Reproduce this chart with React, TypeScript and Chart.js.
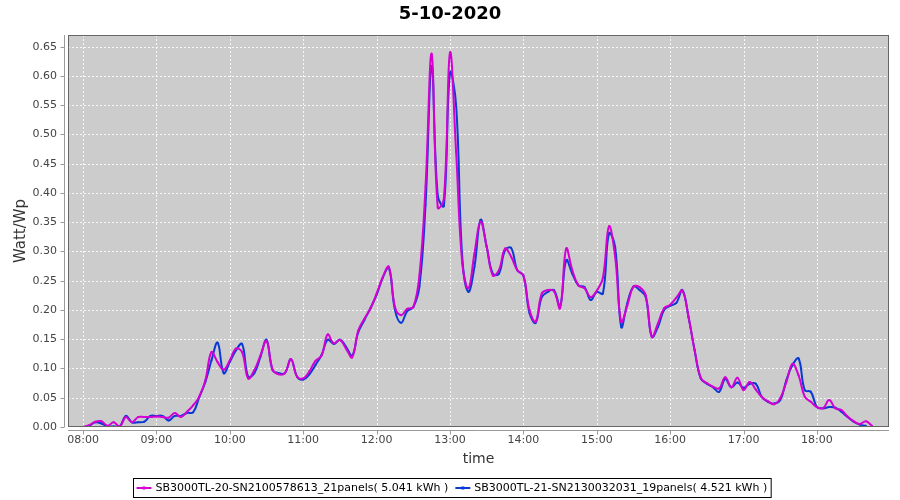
import React, { useEffect, useRef } from "react";
import { Chart, registerables } from "chart.js";

Chart.register(...registerables);

const chartTitle = "5-10-2020";
const xAxisTitle = "time";
const yAxisTitle = "Watt/Wp";
const firstSampleTime = "08:00";
const sampleStepMinutes = 5;
const hourTickLabels = ["08:00", "09:00", "10:00", "11:00", "12:00", "13:00", "14:00", "15:00", "16:00", "17:00", "18:00"];
const yTickValues = [0, 0.05, 0.1, 0.15, 0.2, 0.25, 0.3, 0.35, 0.4, 0.45, 0.5, 0.55, 0.6, 0.65];

const series1Label = "SB3000TL-20-SN2100578613_21panels( 5.041 kWh )";
const series2Label = "SB3000TL-21-SN2130032031_19panels( 4.521 kWh )";

// one row per hour, 5-minute samples starting 08:00
const series1Values: (number | null)[] = [
  0.000, 0.003, 0.009, 0.010, 0.002, 0.008, 0.001, 0.017, 0.008, 0.017, 0.017, 0.017,
  0.018, 0.017, 0.016, 0.024, 0.017, 0.026, 0.037, 0.052, 0.080, 0.128, 0.111, 0.098,
  0.114, 0.134, 0.128, 0.083, 0.097, 0.122, 0.147, 0.098, 0.090, 0.092, 0.116, 0.086,
  0.083, 0.095, 0.113, 0.122, 0.158, 0.143, 0.149, 0.134, 0.119, 0.165, 0.185, 0.203,
  0.228, 0.256, 0.274, 0.205, 0.191, 0.202, 0.205, 0.259, 0.411, 0.638, 0.375, 0.390,
  0.640, 0.470, 0.280, 0.237, 0.297, 0.351, 0.308, 0.259, 0.268, 0.305, 0.291, 0.268,
  0.259, 0.200, 0.180, 0.228, 0.234, 0.232, 0.203, 0.305, 0.268, 0.242, 0.237, 0.222,
  0.233, 0.255, 0.343, 0.291, 0.180, 0.208, 0.240, 0.239, 0.225, 0.154, 0.177, 0.203,
  0.209, 0.221, 0.233, 0.188, 0.131, 0.084, 0.075, 0.069, 0.066, 0.085, 0.068, 0.084,
  0.063, 0.077, 0.064, 0.051, 0.044, 0.039, 0.049, 0.077, 0.108, 0.088, 0.052, 0.043,
  0.034, 0.032, 0.046, 0.032, 0.029, 0.018, 0.010, 0.005, 0.010, 0.002,
];

const series2Values: (number | null)[] = [
  0.000, 0.002, 0.008, 0.006, 0.001, 0.001, 0.001, 0.019, 0.008, 0.008, 0.009, 0.019,
  0.019, 0.019, 0.011, 0.019, 0.019, 0.024, 0.025, 0.051, 0.077, 0.114, 0.144, 0.092,
  0.111, 0.131, 0.142, 0.086, 0.092, 0.120, 0.149, 0.097, 0.092, 0.092, 0.116, 0.086,
  0.081, 0.090, 0.106, 0.123, 0.149, 0.142, 0.149, 0.137, 0.122, 0.162, 0.183, 0.203,
  0.226, 0.255, 0.272, 0.200, 0.178, 0.198, 0.205, 0.240, 0.380, 0.617, 0.395, 0.378,
  0.605, 0.550, 0.290, 0.231, 0.274, 0.354, 0.308, 0.262, 0.262, 0.302, 0.306, 0.268,
  0.259, 0.195, 0.178, 0.222, 0.231, 0.234, 0.206, 0.285, 0.262, 0.242, 0.239, 0.217,
  0.231, 0.228, 0.331, 0.308, 0.171, 0.212, 0.240, 0.234, 0.222, 0.154, 0.171, 0.200,
  0.207, 0.212, 0.234, 0.188, 0.131, 0.083, 0.074, 0.068, 0.060, 0.082, 0.068, 0.076,
  0.067, 0.074, 0.074, 0.051, 0.043, 0.040, 0.046, 0.080, 0.106, 0.117, 0.063, 0.060,
  0.034, 0.032, 0.034, 0.033, 0.026, 0.017, 0.009, 0.004, 0.002, null,
];

const series1Color = "#d400d4";
const series2Color = "#0a3ad4";

const toMinutes = (t: string) => {
  const [h, m] = t.split(":").map(Number);
  return h * 60 + m;
};
const fmtTime = (v: number) => {
  const h = Math.floor(v / 60);
  const m = Math.round(v - h * 60);
  return `${String(h).padStart(2, "0")}:${String(m).padStart(2, "0")}`;
};

const FONT = "'DejaVu Sans', sans-serif";

const decorPlugin = {
  id: "decor",
  beforeDraw(chart: any) {
    const { ctx, chartArea: a, scales } = chart;
    ctx.save();
    ctx.fillStyle = "#ffffff";
    ctx.fillRect(0, 0, chart.width, chart.height);
    ctx.fillStyle = "#cccccc";
    ctx.fillRect(a.left, a.top, a.right - a.left, a.bottom - a.top);
    ctx.strokeStyle = "rgba(255,255,255,0.85)";
    ctx.lineWidth = 1;
    ctx.setLineDash([2, 2]);
    for (const v of yTickValues) {
      const py = Math.round(scales.y.getPixelForValue(v)) + 0.5;
      ctx.beginPath();
      ctx.moveTo(a.left, py);
      ctx.lineTo(a.right, py);
      ctx.stroke();
    }
    for (const t of hourTickLabels) {
      const px = Math.round(scales.x.getPixelForValue(toMinutes(t))) + 0.5;
      ctx.beginPath();
      ctx.moveTo(px, a.top);
      ctx.lineTo(px, a.bottom);
      ctx.stroke();
    }
    ctx.setLineDash([]);
    // axis lines and tick marks
    ctx.strokeStyle = "#9a9a9a";
    const axX = a.left - 3.5;
    ctx.beginPath();
    ctx.moveTo(axX, a.top);
    ctx.lineTo(axX, a.bottom);
    ctx.stroke();
    for (const v of yTickValues) {
      const py = Math.round(scales.y.getPixelForValue(v)) + 0.5;
      ctx.beginPath();
      ctx.moveTo(axX - 4, py);
      ctx.lineTo(axX, py);
      ctx.stroke();
    }
    const axY = a.bottom + 3.5;
    ctx.beginPath();
    ctx.moveTo(a.left, axY);
    ctx.lineTo(a.right, axY);
    ctx.stroke();
    for (const t of hourTickLabels) {
      const px = Math.round(scales.x.getPixelForValue(toMinutes(t))) + 0.5;
      ctx.beginPath();
      ctx.moveTo(px, axY);
      ctx.lineTo(px, axY + 4);
      ctx.stroke();
    }
    ctx.restore();
  },
  afterDatasetsDraw(chart: any) {
    const { ctx, chartArea: a } = chart;
    ctx.save();
    ctx.strokeStyle = "#666666";
    ctx.lineWidth = 1;
    ctx.strokeRect(a.left + 0.5, a.top + 0.5, a.right - a.left - 1, a.bottom - a.top - 1);
    ctx.restore();
  },
  afterDraw(chart: any) {
    const { ctx } = chart;
    ctx.save();
    // title
    ctx.fillStyle = "#000000";
    ctx.font = `bold 18px ${FONT}`;
    ctx.textAlign = "center";
    ctx.textBaseline = "middle";
    ctx.fillText(chartTitle, 450, 14);
    // legend
    ctx.font = `11px ${FONT}`;
    ctx.textAlign = "left";
    const items = [
      { label: series1Label, color: series1Color },
      { label: series2Label, color: series2Color },
    ];
    const symW = 15;
    const gapSym = 4;
    const gapItem = 6;
    const pad = 3;
    const widths = items.map((it) => symW + gapSym + ctx.measureText(it.label).width + 1);
    const total = pad * 2 + widths.reduce((s, w) => s + w, 0) + gapItem * (items.length - 1);
    const boxL = Math.round(451.5 - total / 2) + 0.5;
    const boxT = 478.5;
    const boxH = 19;
    ctx.strokeStyle = "#000000";
    ctx.lineWidth = 1;
    ctx.strokeRect(boxL, boxT, total, boxH);
    let x = boxL + pad;
    const cy = boxT + boxH / 2;
    items.forEach((it, i) => {
      ctx.strokeStyle = it.color;
      ctx.lineWidth = 2;
      ctx.beginPath();
      ctx.moveTo(x, cy);
      ctx.lineTo(x + symW, cy);
      ctx.stroke();
      ctx.fillStyle = it.color;
      ctx.fillRect(x + symW / 2 - 1.5, cy - 1.5, 3, 3);
      ctx.fillStyle = "#000000";
      ctx.fillText(it.label, x + symW + gapSym, cy + 0.5);
      x += widths[i] + gapItem;
    });
    ctx.restore();
  },
};

export default function App() {
  const canvasRef = useRef<HTMLCanvasElement | null>(null);

  useEffect(() => {
    const canvas = canvasRef.current;
    if (!canvas) return;
    const start = toMinutes(firstSampleTime);
    const toPoints = (vals: (number | null)[]) =>
      vals.map((v, i) => ({ x: start + i * sampleStepMinutes, y: v }));

    const chart = new Chart(canvas, {
      type: "line",
      data: {
        datasets: [
          {
            label: series1Label,
            data: toPoints(series1Values) as any,
            borderColor: series1Color,
            backgroundColor: series1Color,
            borderWidth: 2,
            pointRadius: 1,
            pointBorderWidth: 0,
            tension: 0.4,
            spanGaps: false,
          },
          {
            label: series2Label,
            data: toPoints(series2Values) as any,
            borderColor: series2Color,
            backgroundColor: series2Color,
            borderWidth: 2,
            pointRadius: 1,
            pointBorderWidth: 0,
            tension: 0.4,
            spanGaps: false,
          },
        ],
      },
      options: {
        responsive: false,
        animation: false,
        layout: { padding: { left: 0, right: 11, top: 35, bottom: 28 } },
        plugins: {
          legend: { display: false },
          title: { display: false },
          tooltip: { enabled: false },
        },
        scales: {
          x: {
            type: "linear",
            min: 467.7,
            max: 1138.9,
            grid: { display: false, drawTicks: true, tickLength: 6 },
            border: { display: false },
            afterBuildTicks: (axis: any) => {
              axis.ticks = hourTickLabels.map((t) => ({ value: toMinutes(t) }));
            },
            afterFit: (axis: any) => {
              axis.height = 45;
            },
            ticks: {
              autoSkip: false,
              maxRotation: 0,
              padding: 1,
              color: "#444444",
              font: { family: FONT, size: 11 },
              callback: (v: any) => fmtTime(Number(v)),
            },
            title: {
              display: true,
              text: xAxisTitle,
              color: "#333333",
              font: { family: FONT, size: 14 },
              padding: { top: 0, bottom: 4 },
            },
          },
          y: {
            type: "linear",
            min: 0,
            max: 0.67,
            grid: { display: false, drawTicks: true, tickLength: 8 },
            border: { display: false },
            afterBuildTicks: (axis: any) => {
              axis.ticks = yTickValues.map((v) => ({ value: v }));
            },
            afterFit: (axis: any) => {
              axis.width = 68;
            },
            ticks: {
              autoSkip: false,
              padding: 3,
              color: "#444444",
              font: { family: FONT, size: 11 },
              callback: (v: any) => Number(v).toFixed(2),
            },
            title: {
              display: true,
              text: yAxisTitle,
              color: "#333333",
              font: { family: FONT, size: 15 },
              padding: { top: 12, bottom: 4 },
            },
          },
        },
      },
      plugins: [decorPlugin],
    });
    return () => chart.destroy();
  }, []);

  return (
    <div style={{ position: "absolute", left: 0, top: 0, width: 900, height: 500, background: "#fff" }}>
      <canvas ref={canvasRef} width={900} height={500} />
    </div>
  );
}
